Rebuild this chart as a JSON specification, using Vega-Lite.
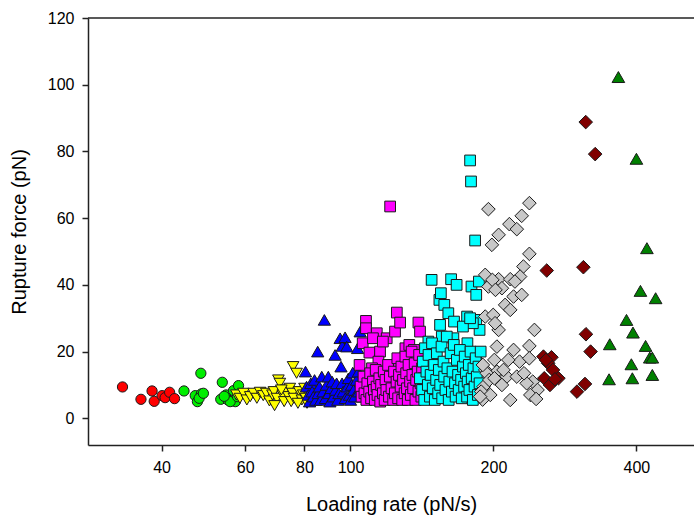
{
  "$schema": "https://vega.github.io/schema/vega-lite/v6.json",
  "autosize": "none",
  "width": 606,
  "height": 427,
  "padding": {"left": 88, "top": 18, "right": 0, "bottom": 73},
  "background": "white",
  "config": {
    "view": {"stroke": null},
    "font": "Liberation Sans",
    "axis": {
      "domainColor": "#222222",
      "domainWidth": 1.5,
      "tickColor": "#222222",
      "tickWidth": 1.5,
      "tickSize": 6,
      "grid": false,
      "labelFont": "Liberation Sans",
      "labelFontSize": 16,
      "labelColor": "#000000",
      "titleFont": "Liberation Sans",
      "titleFontSize": 20,
      "titleFontWeight": "normal",
      "titleColor": "#000000"
    }
  },
  "datasets": {
    "points": [
      {"g": "s1", "x": 33.1, "y": 9.4}, {"g": "s1", "x": 36.2, "y": 5.7}, {"g": "s1", "x": 38.2, "y": 8.2}, {"g": "s1", "x": 38.6, "y": 5.1},
      {"g": "s1", "x": 40.1, "y": 6.8}, {"g": "s1", "x": 40.7, "y": 6.2}, {"g": "s1", "x": 41.6, "y": 7.8}, {"g": "s1", "x": 42.6, "y": 5.9},

      {"g": "s2", "x": 44.6, "y": 8.2}, {"g": "s2", "x": 47.1, "y": 6.8}, {"g": "s2", "x": 47.6, "y": 5.0}, {"g": "s2", "x": 48.5, "y": 7.3},
      {"g": "s2", "x": 48.4, "y": 13.5}, {"g": "s2", "x": 48.0, "y": 6.0}, {"g": "s2", "x": 49.0, "y": 7.5}, {"g": "s2", "x": 53.7, "y": 10.8},
      {"g": "s2", "x": 53.3, "y": 5.7}, {"g": "s2", "x": 54.7, "y": 7.0}, {"g": "s2", "x": 55.2, "y": 5.5}, {"g": "s2", "x": 56.7, "y": 8.3},
      {"g": "s2", "x": 58.1, "y": 9.8}, {"g": "s2", "x": 57.2, "y": 5.0}, {"g": "s2", "x": 55.8, "y": 5.0}, {"g": "s2", "x": 54.2, "y": 6.6},
      {"g": "s2", "x": 57.8, "y": 6.5},

      {"g": "s3", "x": 57.5, "y": 7.0}, {"g": "s3", "x": 58.5, "y": 6.0}, {"g": "s3", "x": 59.5, "y": 7.5}, {"g": "s3", "x": 60.5, "y": 5.5},
      {"g": "s3", "x": 61.5, "y": 6.5}, {"g": "s3", "x": 62.5, "y": 7.5}, {"g": "s3", "x": 63.5, "y": 6.0}, {"g": "s3", "x": 64.5, "y": 7.8},
      {"g": "s3", "x": 65.5, "y": 6.8}, {"g": "s3", "x": 66.5, "y": 7.5}, {"g": "s3", "x": 67.5, "y": 5.2}, {"g": "s3", "x": 68.5, "y": 7.0},
      {"g": "s3", "x": 69.0, "y": 8.0}, {"g": "s3", "x": 70.0, "y": 6.0}, {"g": "s3", "x": 70.5, "y": 11.5}, {"g": "s3", "x": 71.0, "y": 10.5},
      {"g": "s3", "x": 69.2, "y": 3.8}, {"g": "s3", "x": 72.0, "y": 7.0}, {"g": "s3", "x": 72.5, "y": 5.0}, {"g": "s3", "x": 73.0, "y": 8.5},
      {"g": "s3", "x": 74.0, "y": 6.5}, {"g": "s3", "x": 74.5, "y": 9.0}, {"g": "s3", "x": 75.0, "y": 5.0}, {"g": "s3", "x": 75.5, "y": 7.5},
      {"g": "s3", "x": 76.0, "y": 6.0}, {"g": "s3", "x": 75.7, "y": 15.5}, {"g": "s3", "x": 77.0, "y": 13.5}, {"g": "s3", "x": 78.0, "y": 8.0},
      {"g": "s3", "x": 79.0, "y": 5.5}, {"g": "s3", "x": 79.5, "y": 7.0}, {"g": "s3", "x": 80.0, "y": 9.0}, {"g": "s3", "x": 80.5, "y": 6.0},
      {"g": "s3", "x": 81.0, "y": 4.5}, {"g": "s3", "x": 82.0, "y": 7.5}, {"g": "s3", "x": 83.0, "y": 8.5}, {"g": "s3", "x": 84.0, "y": 6.0},
      {"g": "s3", "x": 77.5, "y": 4.5}, {"g": "s3", "x": 71.5, "y": 8.5},

      {"g": "s4", "x": 80.4, "y": 14.0}, {"g": "s4", "x": 80.8, "y": 9.5}, {"g": "s4", "x": 81.5, "y": 7.0}, {"g": "s4", "x": 82.0, "y": 5.0},
      {"g": "s4", "x": 82.5, "y": 10.5}, {"g": "s4", "x": 83.0, "y": 8.0}, {"g": "s4", "x": 83.5, "y": 6.5}, {"g": "s4", "x": 84.0, "y": 11.5},
      {"g": "s4", "x": 84.5, "y": 5.5}, {"g": "s4", "x": 85.3, "y": 20.0}, {"g": "s4", "x": 85.5, "y": 7.5}, {"g": "s4", "x": 86.0, "y": 9.5},
      {"g": "s4", "x": 86.5, "y": 5.5}, {"g": "s4", "x": 87.0, "y": 12.5}, {"g": "s4", "x": 87.5, "y": 8.0}, {"g": "s4", "x": 88.1, "y": 29.5},
      {"g": "s4", "x": 88.5, "y": 6.0}, {"g": "s4", "x": 89.0, "y": 10.0}, {"g": "s4", "x": 89.8, "y": 12.5}, {"g": "s4", "x": 90.0, "y": 7.5},
      {"g": "s4", "x": 90.5, "y": 5.0}, {"g": "s4", "x": 91.0, "y": 9.0}, {"g": "s4", "x": 91.5, "y": 11.0}, {"g": "s4", "x": 92.0, "y": 6.5},
      {"g": "s4", "x": 92.8, "y": 19.0}, {"g": "s4", "x": 93.0, "y": 8.5}, {"g": "s4", "x": 93.5, "y": 10.5}, {"g": "s4", "x": 94.0, "y": 5.5},
      {"g": "s4", "x": 94.5, "y": 7.5}, {"g": "s4", "x": 95.1, "y": 24.0}, {"g": "s4", "x": 95.5, "y": 15.5}, {"g": "s4", "x": 96.1, "y": 21.7},
      {"g": "s4", "x": 96.0, "y": 10.5}, {"g": "s4", "x": 96.5, "y": 8.0}, {"g": "s4", "x": 97.4, "y": 24.3}, {"g": "s4", "x": 97.5, "y": 6.0},
      {"g": "s4", "x": 98.2, "y": 21.5}, {"g": "s4", "x": 98.5, "y": 9.5}, {"g": "s4", "x": 99.0, "y": 12.0}, {"g": "s4", "x": 99.5, "y": 7.0},
      {"g": "s4", "x": 100.0, "y": 5.5}, {"g": "s4", "x": 100.5, "y": 10.0}, {"g": "s4", "x": 101.1, "y": 13.7}, {"g": "s4", "x": 101.5, "y": 8.5},
      {"g": "s4", "x": 102.0, "y": 6.5}, {"g": "s4", "x": 103.0, "y": 11.5}, {"g": "s4", "x": 103.9, "y": 14.0}, {"g": "s4", "x": 103.5, "y": 21.0},
      {"g": "s4", "x": 104.0, "y": 8.0}, {"g": "s4", "x": 104.8, "y": 26.0}, {"g": "s4", "x": 105.5, "y": 10.0}, {"g": "s4", "x": 106.0, "y": 6.5},
      {"g": "s4", "x": 107.0, "y": 9.0}, {"g": "s4", "x": 108.0, "y": 7.5},

      {"g": "s5", "x": 107.8, "y": 29.2}, {"g": "s5", "x": 107.8, "y": 27.0}, {"g": "s5", "x": 106.1, "y": 22.5}, {"g": "s5", "x": 109.6, "y": 19.7},
      {"g": "s5", "x": 113.6, "y": 25.5}, {"g": "s5", "x": 115.4, "y": 20.0}, {"g": "s5", "x": 114.5, "y": 17.0}, {"g": "s5", "x": 119.2, "y": 24.0},
      {"g": "s5", "x": 124.1, "y": 26.0}, {"g": "s5", "x": 125.2, "y": 31.7}, {"g": "s5", "x": 127.2, "y": 28.7}, {"g": "s5", "x": 139.0, "y": 28.7},
      {"g": "s5", "x": 140.1, "y": 26.0}, {"g": "s5", "x": 121.2, "y": 63.5}, {"g": "s5", "x": 111.5, "y": 24.0}, {"g": "s5", "x": 117.0, "y": 23.0},
      {"g": "s5", "x": 130.5, "y": 21.0}, {"g": "s5", "x": 133.0, "y": 22.0}, {"g": "s5", "x": 136.0, "y": 20.5}, {"g": "s5", "x": 138.0, "y": 18.5},
      {"g": "s5", "x": 127.0, "y": 17.5}, {"g": "s5", "x": 122.0, "y": 15.5}, {"g": "s5", "x": 111.0, "y": 15.0}, {"g": "s5", "x": 104.5, "y": 16.0},
      {"g": "s5", "x": 105.0, "y": 9.5}, {"g": "s5", "x": 105.5, "y": 6.5}, {"g": "s5", "x": 106.5, "y": 12.5}, {"g": "s5", "x": 107.0, "y": 7.5},
      {"g": "s5", "x": 108.0, "y": 5.5}, {"g": "s5", "x": 108.5, "y": 10.5}, {"g": "s5", "x": 109.5, "y": 8.0}, {"g": "s5", "x": 110.0, "y": 13.5},
      {"g": "s5", "x": 110.5, "y": 6.0}, {"g": "s5", "x": 111.5, "y": 11.0}, {"g": "s5", "x": 112.0, "y": 8.5}, {"g": "s5", "x": 112.5, "y": 5.5},
      {"g": "s5", "x": 113.0, "y": 14.5}, {"g": "s5", "x": 113.5, "y": 9.5}, {"g": "s5", "x": 114.0, "y": 7.0}, {"g": "s5", "x": 115.0, "y": 12.0},
      {"g": "s5", "x": 115.5, "y": 5.0}, {"g": "s5", "x": 116.0, "y": 10.0}, {"g": "s5", "x": 117.0, "y": 7.5}, {"g": "s5", "x": 117.5, "y": 14.0},
      {"g": "s5", "x": 118.0, "y": 5.5}, {"g": "s5", "x": 118.5, "y": 11.5}, {"g": "s5", "x": 119.0, "y": 8.5}, {"g": "s5", "x": 120.0, "y": 16.0},
      {"g": "s5", "x": 120.5, "y": 6.5}, {"g": "s5", "x": 121.0, "y": 12.5}, {"g": "s5", "x": 122.0, "y": 9.0}, {"g": "s5", "x": 123.0, "y": 5.5},
      {"g": "s5", "x": 123.5, "y": 14.0}, {"g": "s5", "x": 124.0, "y": 7.5}, {"g": "s5", "x": 125.0, "y": 11.0}, {"g": "s5", "x": 125.5, "y": 18.0},
      {"g": "s5", "x": 126.0, "y": 6.0}, {"g": "s5", "x": 126.5, "y": 13.0}, {"g": "s5", "x": 127.5, "y": 9.5}, {"g": "s5", "x": 128.0, "y": 15.5},
      {"g": "s5", "x": 128.5, "y": 5.5}, {"g": "s5", "x": 129.0, "y": 11.5}, {"g": "s5", "x": 130.0, "y": 7.5}, {"g": "s5", "x": 130.5, "y": 18.5},
      {"g": "s5", "x": 131.0, "y": 13.5}, {"g": "s5", "x": 131.5, "y": 9.0}, {"g": "s5", "x": 132.0, "y": 5.5}, {"g": "s5", "x": 132.5, "y": 16.0},
      {"g": "s5", "x": 133.5, "y": 11.0}, {"g": "s5", "x": 134.0, "y": 7.0}, {"g": "s5", "x": 134.5, "y": 20.0}, {"g": "s5", "x": 135.0, "y": 13.0},
      {"g": "s5", "x": 135.5, "y": 9.0}, {"g": "s5", "x": 136.5, "y": 16.5}, {"g": "s5", "x": 137.0, "y": 5.5}, {"g": "s5", "x": 137.5, "y": 11.5},
      {"g": "s5", "x": 138.5, "y": 14.0}, {"g": "s5", "x": 139.0, "y": 8.0}, {"g": "s5", "x": 139.5, "y": 19.0}, {"g": "s5", "x": 140.5, "y": 10.5},
      {"g": "s5", "x": 141.0, "y": 6.5}, {"g": "s5", "x": 141.5, "y": 15.0}, {"g": "s5", "x": 142.5, "y": 12.0}, {"g": "s5", "x": 143.0, "y": 8.5},
      {"g": "s5", "x": 144.0, "y": 17.0}, {"g": "s5", "x": 144.5, "y": 10.0}, {"g": "s5", "x": 145.0, "y": 6.0},

      {"g": "s6", "x": 178.6, "y": 77.3}, {"g": "s6", "x": 179.4, "y": 71.0}, {"g": "s6", "x": 183.0, "y": 53.3}, {"g": "s6", "x": 148.2, "y": 41.5},
      {"g": "s6", "x": 162.9, "y": 41.7}, {"g": "s6", "x": 167.3, "y": 40.0}, {"g": "s6", "x": 153.9, "y": 35.5}, {"g": "s6", "x": 157.6, "y": 34.0},
      {"g": "s6", "x": 160.7, "y": 31.5}, {"g": "s6", "x": 179.8, "y": 39.5}, {"g": "s6", "x": 184.0, "y": 37.0}, {"g": "s6", "x": 186.4, "y": 41.0},
      {"g": "s6", "x": 184.0, "y": 29.5}, {"g": "s6", "x": 187.0, "y": 26.5}, {"g": "s6", "x": 155.0, "y": 37.5}, {"g": "s6", "x": 176.0, "y": 30.5},
      {"g": "s6", "x": 181.0, "y": 28.5}, {"g": "s6", "x": 154.4, "y": 28.0}, {"g": "s6", "x": 165.2, "y": 29.0}, {"g": "s6", "x": 172.5, "y": 27.5},
      {"g": "s6", "x": 178.6, "y": 30.0}, {"g": "s6", "x": 145.9, "y": 23.0}, {"g": "s6", "x": 155.7, "y": 24.5}, {"g": "s6", "x": 164.7, "y": 24.0},
      {"g": "s6", "x": 176.3, "y": 22.5}, {"g": "s6", "x": 184.0, "y": 19.5},
      {"g": "s6", "x": 140.0, "y": 12.0}, {"g": "s6", "x": 141.5, "y": 8.5}, {"g": "s6", "x": 142.0, "y": 17.0}, {"g": "s6", "x": 143.0, "y": 5.5},
      {"g": "s6", "x": 143.5, "y": 21.0}, {"g": "s6", "x": 144.5, "y": 14.0}, {"g": "s6", "x": 145.5, "y": 10.0}, {"g": "s6", "x": 146.0, "y": 19.0},
      {"g": "s6", "x": 147.0, "y": 6.5}, {"g": "s6", "x": 147.5, "y": 13.0}, {"g": "s6", "x": 148.5, "y": 22.5}, {"g": "s6", "x": 149.0, "y": 9.0},
      {"g": "s6", "x": 150.0, "y": 16.0}, {"g": "s6", "x": 150.5, "y": 5.5}, {"g": "s6", "x": 151.5, "y": 11.5}, {"g": "s6", "x": 152.0, "y": 19.5},
      {"g": "s6", "x": 153.0, "y": 7.5}, {"g": "s6", "x": 153.5, "y": 14.5}, {"g": "s6", "x": 154.5, "y": 10.0}, {"g": "s6", "x": 155.5, "y": 21.5},
      {"g": "s6", "x": 156.0, "y": 6.0}, {"g": "s6", "x": 157.0, "y": 17.0}, {"g": "s6", "x": 157.5, "y": 12.5}, {"g": "s6", "x": 158.5, "y": 8.5},
      {"g": "s6", "x": 159.5, "y": 24.5}, {"g": "s6", "x": 160.0, "y": 15.0}, {"g": "s6", "x": 161.0, "y": 5.5}, {"g": "s6", "x": 161.5, "y": 11.0},
      {"g": "s6", "x": 162.5, "y": 19.5}, {"g": "s6", "x": 163.5, "y": 8.0}, {"g": "s6", "x": 164.0, "y": 14.0}, {"g": "s6", "x": 165.0, "y": 22.0},
      {"g": "s6", "x": 166.0, "y": 10.5}, {"g": "s6", "x": 166.5, "y": 6.5}, {"g": "s6", "x": 167.5, "y": 17.5}, {"g": "s6", "x": 168.5, "y": 13.0},
      {"g": "s6", "x": 169.0, "y": 8.5}, {"g": "s6", "x": 170.0, "y": 20.5}, {"g": "s6", "x": 171.0, "y": 11.5}, {"g": "s6", "x": 171.5, "y": 6.0},
      {"g": "s6", "x": 172.5, "y": 15.5}, {"g": "s6", "x": 173.5, "y": 9.5}, {"g": "s6", "x": 174.0, "y": 18.5}, {"g": "s6", "x": 175.0, "y": 13.5},
      {"g": "s6", "x": 176.0, "y": 6.5}, {"g": "s6", "x": 176.5, "y": 11.0}, {"g": "s6", "x": 177.5, "y": 16.0}, {"g": "s6", "x": 178.0, "y": 8.5},
      {"g": "s6", "x": 179.0, "y": 20.0}, {"g": "s6", "x": 180.0, "y": 12.0}, {"g": "s6", "x": 181.0, "y": 5.5}, {"g": "s6", "x": 181.5, "y": 15.0},
      {"g": "s6", "x": 182.5, "y": 9.5}, {"g": "s6", "x": 183.5, "y": 18.0}, {"g": "s6", "x": 184.5, "y": 12.5}, {"g": "s6", "x": 185.5, "y": 7.0},
      {"g": "s6", "x": 186.0, "y": 15.5}, {"g": "s6", "x": 187.0, "y": 10.5}, {"g": "s6", "x": 188.0, "y": 20.0},

      {"g": "s7", "x": 195.2, "y": 62.7}, {"g": "s7", "x": 238.1, "y": 64.5}, {"g": "s7", "x": 229.4, "y": 60.7}, {"g": "s7", "x": 216.1, "y": 58.2},
      {"g": "s7", "x": 224.0, "y": 56.7}, {"g": "s7", "x": 205.1, "y": 55.0}, {"g": "s7", "x": 198.5, "y": 52.0}, {"g": "s7", "x": 238.1, "y": 49.3},
      {"g": "s7", "x": 231.3, "y": 45.5}, {"g": "s7", "x": 227.6, "y": 42.5}, {"g": "s7", "x": 192.2, "y": 43.0}, {"g": "s7", "x": 205.1, "y": 41.7},
      {"g": "s7", "x": 217.0, "y": 41.7}, {"g": "s7", "x": 195.2, "y": 39.5}, {"g": "s7", "x": 208.4, "y": 39.0}, {"g": "s7", "x": 220.5, "y": 36.5},
      {"g": "s7", "x": 229.4, "y": 37.0}, {"g": "s7", "x": 211.7, "y": 34.0}, {"g": "s7", "x": 217.0, "y": 32.5}, {"g": "s7", "x": 192.2, "y": 30.5},
      {"g": "s7", "x": 199.8, "y": 31.0}, {"g": "s7", "x": 205.1, "y": 26.5}, {"g": "s7", "x": 201.6, "y": 28.5}, {"g": "s7", "x": 244.0, "y": 26.5},
      {"g": "s7", "x": 203.4, "y": 21.5}, {"g": "s7", "x": 220.5, "y": 20.5}, {"g": "s7", "x": 238.1, "y": 21.7}, {"g": "s7", "x": 227.0, "y": 17.0},
      {"g": "s7", "x": 238.0, "y": 18.0}, {"g": "s7", "x": 200.9, "y": 17.5}, {"g": "s7", "x": 192.2, "y": 14.5}, {"g": "s7", "x": 203.4, "y": 14.0},
      {"g": "s7", "x": 213.4, "y": 12.5}, {"g": "s7", "x": 224.0, "y": 12.5}, {"g": "s7", "x": 242.0, "y": 11.0}, {"g": "s7", "x": 247.7, "y": 8.5},
      {"g": "s7", "x": 239.2, "y": 7.0}, {"g": "s7", "x": 217.0, "y": 5.5}, {"g": "s7", "x": 193.6, "y": 13.5}, {"g": "s7", "x": 190.7, "y": 9.5},
      {"g": "s7", "x": 208.4, "y": 10.0}, {"g": "s7", "x": 189.8, "y": 5.6}, {"g": "s7", "x": 188.5, "y": 8.0}, {"g": "s7", "x": 196.0, "y": 11.5},
      {"g": "s7", "x": 201.0, "y": 12.0}, {"g": "s7", "x": 210.0, "y": 14.5}, {"g": "s7", "x": 235.0, "y": 10.5}, {"g": "s7", "x": 246.0, "y": 5.8},
      {"g": "s7", "x": 232.0, "y": 13.5}, {"g": "s7", "x": 190.0, "y": 16.0}, {"g": "s7", "x": 197.0, "y": 7.0}, {"g": "s7", "x": 215.0, "y": 17.5},
      {"g": "s7", "x": 187.5, "y": 6.5}, {"g": "s7", "x": 199.0, "y": 41.5}, {"g": "s7", "x": 202.0, "y": 38.5}, {"g": "s7", "x": 222.0, "y": 41.0},

      {"g": "s8", "x": 259.0, "y": 44.3}, {"g": "s8", "x": 312.9, "y": 88.8}, {"g": "s8", "x": 327.6, "y": 79.2}, {"g": "s8", "x": 309.4, "y": 45.3},
      {"g": "s8", "x": 313.3, "y": 25.2}, {"g": "s8", "x": 320.4, "y": 20.0}, {"g": "s8", "x": 311.8, "y": 10.3}, {"g": "s8", "x": 299.9, "y": 8.0},
      {"g": "s8", "x": 254.9, "y": 18.5}, {"g": "s8", "x": 265.0, "y": 18.3}, {"g": "s8", "x": 260.8, "y": 16.5}, {"g": "s8", "x": 267.0, "y": 14.5},
      {"g": "s8", "x": 274.1, "y": 12.0}, {"g": "s8", "x": 255.9, "y": 12.0}, {"g": "s8", "x": 263.1, "y": 10.0}, {"g": "s8", "x": 269.6, "y": 11.7},
      {"g": "s8", "x": 258.0, "y": 17.5},

      {"g": "s9", "x": 366.6, "y": 102.3}, {"g": "s9", "x": 400.1, "y": 77.8}, {"g": "s9", "x": 421.0, "y": 51.0}, {"g": "s9", "x": 408.0, "y": 38.2},
      {"g": "s9", "x": 439.2, "y": 36.0}, {"g": "s9", "x": 381.3, "y": 29.5}, {"g": "s9", "x": 393.5, "y": 25.7}, {"g": "s9", "x": 351.6, "y": 22.2},
      {"g": "s9", "x": 418.3, "y": 21.7}, {"g": "s9", "x": 426.9, "y": 18.2}, {"g": "s9", "x": 432.2, "y": 18.2}, {"g": "s9", "x": 390.4, "y": 16.2},
      {"g": "s9", "x": 350.4, "y": 11.7}, {"g": "s9", "x": 392.3, "y": 12.0}, {"g": "s9", "x": 432.2, "y": 13.0}
    ],
    "frame": [{"top": 120}]
  },
  "layer": [
    {
      "data": {"name": "points"},
      "mark": {"type": "point", "filled": true, "opacity": 1, "stroke": "#1a1a1a", "strokeWidth": 1},
      "encoding": {
        "x": {
          "field": "x",
          "type": "quantitative",
          "scale": {"type": "log", "domain": [28, 529], "nice": false},
          "axis": {
            "title": "Loading rate (pN/s)",
            "values": [40, 60, 80, 100, 200, 400],
            "format": "d",
            "labelPadding": 8,
            "titlePadding": 19
          }
        },
        "y": {
          "field": "y",
          "type": "quantitative",
          "scale": {"domain": [-8, 120], "nice": false, "zero": false},
          "axis": {
            "title": "Rupture force (pN)",
            "values": [0, 20, 40, 60, 80, 100, 120],
            "labelPadding": 8,
            "titlePadding": 18
          }
        },
        "fill": {
          "field": "g",
          "type": "nominal",
          "legend": null,
          "scale": {
            "domain": ["s1", "s2", "s3", "s4", "s5", "s6", "s7", "s8", "s9"],
            "range": ["#ff0000", "#00ee00", "#ffff00", "#0000ff", "#ff00ff", "#00ffff", "#c8c8c8", "#800000", "#008000"]
          }
        },
        "shape": {
          "field": "g",
          "type": "nominal",
          "legend": null,
          "scale": {
            "domain": ["s1", "s2", "s3", "s4", "s5", "s6", "s7", "s8", "s9"],
            "range": ["circle", "circle", "triangle-down", "triangle-up", "square", "square", "diamond", "diamond", "triangle-up"]
          }
        },
        "size": {
          "field": "g",
          "type": "nominal",
          "legend": null,
          "scale": {
            "type": "ordinal",
            "domain": ["s1", "s2", "s3", "s4", "s5", "s6", "s7", "s8", "s9"],
            "range": [105, 105, 135, 150, 115, 115, 185, 185, 160]
          }
        }
      }
    },
    {
      "data": {"name": "frame"},
      "mark": {"type": "rule", "color": "#222222", "strokeWidth": 1.5},
      "encoding": {
        "y": {"field": "top", "type": "quantitative"}
      }
    }
  ]
}
